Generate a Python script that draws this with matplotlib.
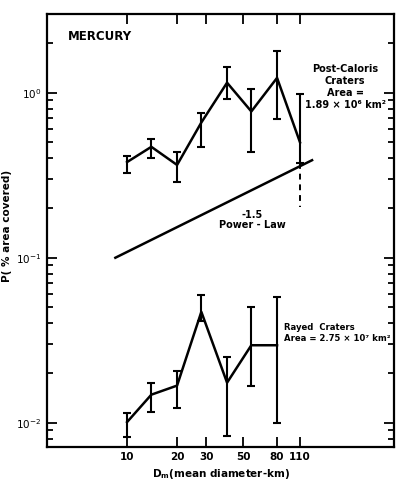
import matplotlib
matplotlib.use('Agg')
import matplotlib.pyplot as plt
from matplotlib.ticker import FixedLocator, LogLocator, NullFormatter

# crater size bins (km)
diam = [10, 14, 20, 28, 40, 56, 80, 110]

# Post-Caloris craters
post_p = [0.38, 0.47, 0.365, 0.66, 1.15, 0.77, 1.23, 0.50]
post_lo = [0.327, 0.404, 0.289, 0.471, 0.92, 0.44, 0.695, 0.377]
post_hi = [0.415, 0.526, 0.439, 0.757, 1.44, 1.06, 1.80, 0.987]
post_dash = [0.377, 0.204]   # open-ended lower bar on the last bin

# rayed craters (first seven bins)
ray_d = diam[:7]
ray_p = [0.0101, 0.0148, 0.0168, 0.047, 0.0175, 0.0295, 0.0295]
ray_lo = [0.0082, 0.0117, 0.0123, 0.0413, 0.0083, 0.0168, 0.0100]
ray_hi = [0.0115, 0.0175, 0.0207, 0.0594, 0.0251, 0.0505, 0.058]

# reference -1.5 power law (slope +1/2 in P)
pl_d = [8.5, 130]
pl_p = [0.100, 0.39]

xticks = [10, 20, 30, 50, 80, 110]
xticklabels = ['10', '20', '30', '50', '80', '110']
yticks = [1e-2, 1e-1, 1e0]
yticklabels = [r'$10^{-2}$', r'$10^{-1}$', r'$10^{0}$']

plt.rcParams['font.family'] = ['DejaVu Sans']
fig = plt.figure(figsize=(3.96, 4.82), dpi=100)
ax = fig.add_axes([0.119, 0.073, 0.876, 0.898])
ax.set_xscale('log')
ax.set_yscale('log')
ax.set_xlim(3.3, 405)
ax.set_ylim(0.00715, 3.0)

lw = 1.8
ax.errorbar(diam, post_p,
            yerr=[[p - l for p, l in zip(post_p, post_lo)],
                  [h - p for p, h in zip(post_p, post_hi)]],
            color='black', lw=lw, elinewidth=1.5, capsize=3, capthick=1.5)
ax.plot([diam[-1], diam[-1]], post_dash, color='black', lw=1.4,
        ls=(0, (3, 2.5)))
ax.errorbar(ray_d, ray_p,
            yerr=[[p - l for p, l in zip(ray_p, ray_lo)],
                  [h - p for p, h in zip(ray_p, ray_hi)]],
            color='black', lw=lw, elinewidth=1.5, capsize=3, capthick=1.5)
ax.plot(pl_d, pl_p, color='black', lw=lw)

# axes frame and ticks
for s in ax.spines.values():
    s.set_linewidth(1.6)
ax.xaxis.set_major_locator(FixedLocator(xticks))
ax.set_xticklabels(xticklabels)
ax.xaxis.set_minor_locator(FixedLocator([]))
ax.yaxis.set_major_locator(FixedLocator(yticks))
ax.set_yticklabels(yticklabels)
ax.yaxis.set_minor_locator(LogLocator(base=10, subs=range(2, 10)))
ax.yaxis.set_minor_formatter(NullFormatter())
ax.tick_params(which='both', direction='in', top=True, right=True,
               width=1.3, labelsize=7.5, pad=4)
ax.tick_params(which='major', length=7)
ax.tick_params(which='minor', length=4)
for lab in ax.get_xticklabels() + ax.get_yticklabels():
    lab.set_fontweight('bold')

ax.set_xlabel(r'D$_\mathregular{m}$(mean diameter-km)', fontsize=7.5,
              fontweight='bold', labelpad=3)
ax.set_ylabel('P( % area covered)', fontsize=7.5, fontweight='bold',
              labelpad=2)
ax.yaxis.set_label_coords(-0.1, 0.51)

ax.text(0.06, 0.947, 'MERCURY', transform=ax.transAxes, fontsize=8.5,
        fontweight='bold', va='center', ha='left')
ax.text(0.859, 0.831, 'Post-Caloris\nCraters\nArea =\n1.89 × 10⁶ km²',
        transform=ax.transAxes, fontsize=7, fontweight='bold',
        ha='center', va='center', linespacing=1.25)
ax.text(0.591, 0.524, '-1.5\nPower - Law', transform=ax.transAxes,
        fontsize=7, fontweight='bold', ha='center', va='center',
        linespacing=1.0)
ax.text(0.682, 0.263, 'Rayed  Craters\nArea = 2.75 × 10⁷ km²',
        transform=ax.transAxes, fontsize=6.1, fontweight='bold',
        ha='left', va='center', linespacing=1.15)

fig.savefig('out.png', dpi=100)
